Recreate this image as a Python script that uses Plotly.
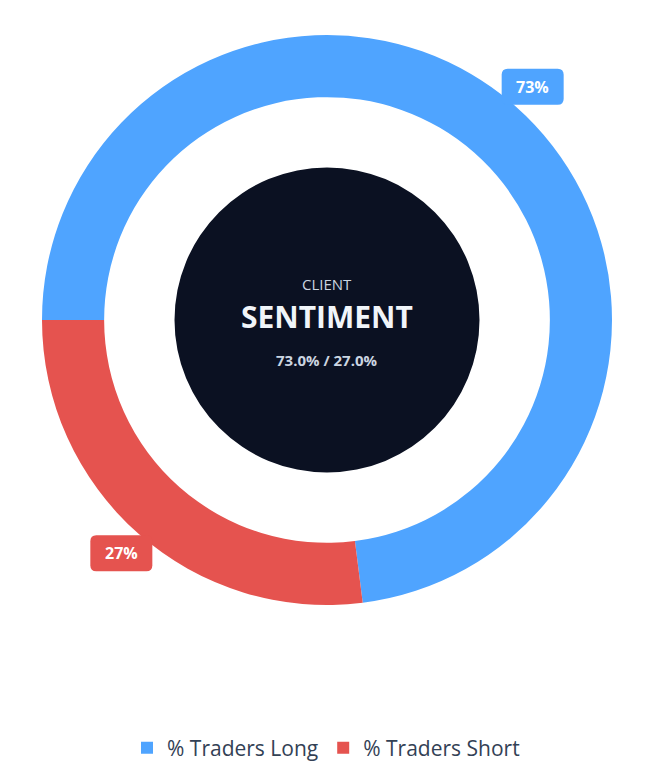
import math
import plotly.graph_objects as go

labels = ["% Traders Long", "% Traders Short"]
values = [73.0, 27.0]
colors = ["#4fa4ff", "#e5534f"]
center_title = "CLIENT"
center_main = "SENTIMENT"

W, H = 652, 773
CX, CY, RO = 327, 320, 285  # pie center and outer radius in pixels


def px(x):
    return x / W


def py(y):
    return 1 - y / H


fig = go.Figure()
fig.add_trace(go.Pie(
    labels=labels, values=values, hole=0.782, sort=False,
    direction="clockwise", rotation=270,
    domain=dict(x=[px(CX - RO), px(CX + RO)], y=[py(CY + RO), py(CY - RO)]),
    marker=dict(colors=colors, line=dict(width=0)),
    textinfo="none", hoverinfo="label+percent",
))

# dark center disc
rc = 152.5
fig.add_shape(type="circle", xref="paper", yref="paper",
              x0=px(CX - rc), x1=px(CX + rc), y0=py(CY + rc), y1=py(CY - rc),
              fillcolor="#0b1122", line=dict(width=0), layer="above")

fig.add_annotation(x=px(CX), y=py(CY - 36), xref="paper", yref="paper", text=center_title,
                   showarrow=False, xanchor="center", yanchor="middle",
                   font=dict(family="Open Sans", size=15, color="#cbd5e1"))
fig.add_annotation(x=px(CX), y=py(CY - 4), xref="paper", yref="paper", text="<b>" + center_main + "</b>",
                   showarrow=False, xanchor="center", yanchor="middle",
                   font=dict(family="Open Sans", size=30, color="#f1f5f9"))
fig.add_annotation(x=px(CX), y=py(CY + 40), xref="paper", yref="paper",
                   text="<b>%.1f%% / %.1f%%</b>" % (values[0], values[1]),
                   showarrow=False, xanchor="center", yanchor="middle",
                   font=dict(family="Open Sans", size=15, color="#cbd5e1"))


def rounded_rect(cx, cy, w, h, r):
    def P(x, y):
        return "%.5f,%.5f" % (px(x), py(y))
    x0, x1, y0, y1 = cx - w / 2, cx + w / 2, cy - h / 2, cy + h / 2
    return ("M" + P(x0 + r, y0) + " L" + P(x1 - r, y0) + " Q" + P(x1, y0) + " " + P(x1, y0 + r) +
            " L" + P(x1, y1 - r) + " Q" + P(x1, y1) + " " + P(x1 - r, y1) +
            " L" + P(x0 + r, y1) + " Q" + P(x0, y1) + " " + P(x0, y1 - r) +
            " L" + P(x0, y0 + r) + " Q" + P(x0, y0) + " " + P(x0 + r, y0) + " Z")


# percentage badges at slice mid-angles
total = sum(values)
start = 270.0
rb = 311
for v, c in zip(values, colors):
    span = v / total * 360
    mid = math.radians(start + span / 2)
    bx = CX + rb * math.sin(mid)
    by = CY - rb * math.cos(mid)
    fig.add_shape(type="path", xref="paper", yref="paper", path=rounded_rect(bx, by, 62, 36, 6),
                  fillcolor=c, line=dict(width=0), layer="above")
    fig.add_annotation(x=px(bx), y=py(by), xref="paper", yref="paper",
                       text="<b>%d%%</b>" % round(v / total * 100),
                       showarrow=False, xanchor="center", yanchor="middle",
                       font=dict(family="Open Sans", size=16, color="#ffffff"))
    start += span

fig.update_layout(
    width=W, height=H, margin=dict(l=0, r=0, t=0, b=0, autoexpand=False),
    paper_bgcolor="#ffffff", plot_bgcolor="#ffffff",
    font=dict(family="Open Sans", color="#334155"),
    showlegend=True,
    legend=dict(orientation="h", x=0.5, xanchor="center", y=py(748), yanchor="middle",
                font=dict(size=21, color="#334155"), itemsizing="constant", itemwidth=30),
)

fig.write_html("out.html")
